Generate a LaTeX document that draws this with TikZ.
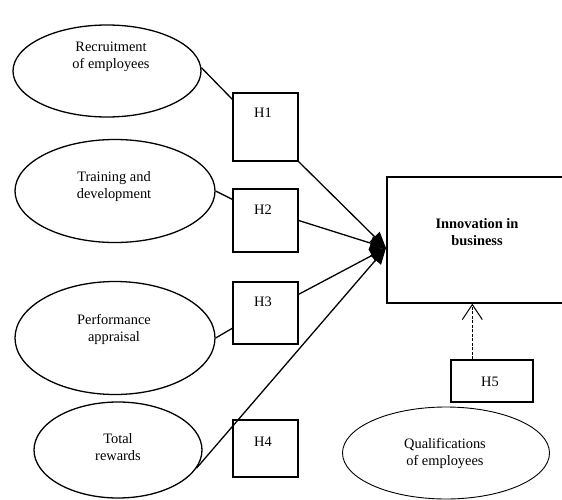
\documentclass[tikz,border=0pt]{standalone}
\usepackage{fontspec}
\setmainfont{Liberation Serif}
\usetikzlibrary{arrows.meta,calc,shapes.geometric}
\begin{document}
\begin{tikzpicture}[x=1pt,y=-1pt,
  ell/.style={draw,ellipse,line width=1.3pt,inner sep=0pt},
  ellq/.style={draw,ellipse,line width=0.9pt,inner sep=0pt},
  hbox/.style={draw,rectangle,line width=1.4pt,inner sep=0pt},
  txt/.style={align=center,inner sep=0pt,font=\fontsize{14.4}{17}\selectfont},
  conn/.style={line width=1.3pt},
  arr/.style={line width=1.3pt,-{Triangle[length=16pt,width=14pt]}},
  dasharr/.style={line width=1pt,dash pattern=on 3pt off 1.5pt,-{Straight Barb[length=15pt,width=20pt,line width=1pt]}}
]
\useasboundingbox (0,0) rectangle (562,500);
\begin{scope}
\clip (0,0) rectangle (562,500);
% ellipses
\node[ell,minimum width=188pt,minimum height=92pt] (e1) at (107,71) {};
\node[txt] (t1) at (111,57) {Recruitment\\of employees};
\node[ell,minimum width=200pt,minimum height=103pt] (e2) at (115,191) {};
\node[txt] (t2) at (114,187) {Training and\\development};
\node[ell,minimum width=200pt,minimum height=113pt] (e3) at (115,338) {};
\node[txt] (t3) at (114,329) {Performance\\appraisal};
\node[ell,minimum width=168pt,minimum height=96pt] (e4) at (118,450) {};
\node[txt] (t4) at (118,447) {Total\\rewards};
\node[ellq,minimum width=207pt,minimum height=92pt] (eq) at (446,453) {};
\node[txt] (tq) at (445,453) {Qualifications\\of employees};
% hypothesis boxes
\node[hbox,minimum width=65pt,minimum height=68pt] (h1) at (265.5,127) {};
\node[txt] (l1) at (263,113) {H1};
\node[hbox,minimum width=65pt,minimum height=63pt] (h2) at (265.5,220.5) {};
\node[txt] (l2) at (263,210) {H2};
\node[hbox,minimum width=65pt,minimum height=62pt] (h3) at (265.5,313) {};
\node[txt] (l3) at (263,302) {H3};
\node[hbox,minimum width=65pt,minimum height=57pt] (h4) at (265.5,448.5) {};
\node[txt] (l4) at (263,442) {H4};
\node[hbox,minimum width=82pt,minimum height=42pt] (h5) at (492,381) {};
\node[txt] (l5) at (490,382) {H5};
% innovation box
\node[hbox,minimum width=213pt,minimum height=126pt] (inn) at (493.5,240) {};
\node[txt] (ti) at (477,232) {\bfseries Innovation in\\\bfseries business};
\coordinate (tip) at (386,248);
% connectors
\draw[conn] (e1.2) -- ($(h1.north west)+(0,7)$);
\draw[conn] (e2.east) -- ($(h2.north west)+(0,11)$);
\draw[conn] (e3.east) -- ($(h3.north west)+(0,47)$);
\draw[arr] (h1.south east) -- (tip);
\draw[arr] (h2.east) -- (tip);
\draw[arr] ($(h3.north east)+(0,13)$) -- (tip);
\draw[arr] (e4.-13) -- (tip);
\draw[dasharr] ($(h5.north west)+(22,0)$) -- ($(inn.south west)+(86,0)$);
\end{scope}
\end{tikzpicture}
\end{document}
